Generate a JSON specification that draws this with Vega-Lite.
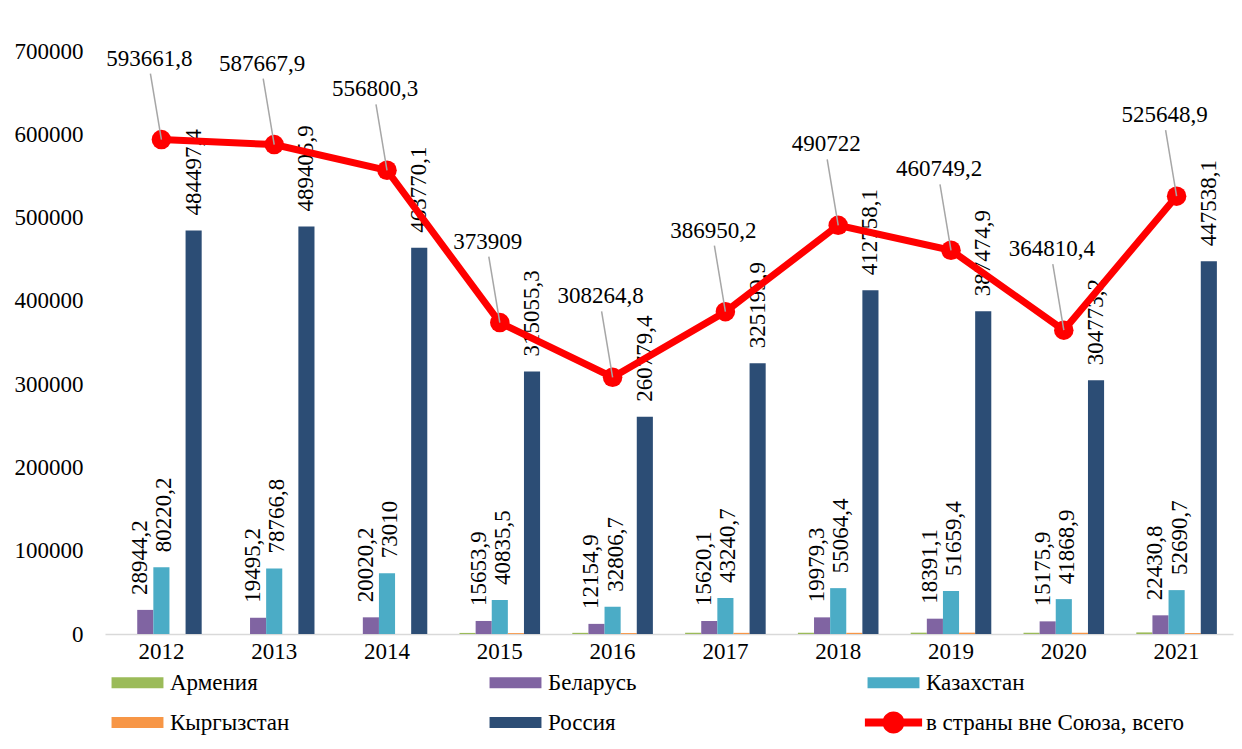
{
  "$schema": "https://vega.github.io/schema/vega-lite/v6.json",
  "width": 1128,
  "height": 583,
  "autosize": {"type": "none"},
  "padding": {"left": 105, "top": 51, "right": 9, "bottom": 115},
  "background": "white",
  "config": {
    "view": {"stroke": null},
    "font": "Liberation Serif",
    "text": {"font": "Liberation Serif"},
    "axis": {"labelFont": "Liberation Serif"},
    "legend": {"labelFont": "Liberation Serif"},
    "locale": {"number": {"decimal": ",", "thousands": " ", "grouping": [3], "currency": ["", ""]}}
  },
  "datasets": {
    "bars": [
      {"year": "2012", "series": "Беларусь", "value": 28944.2},
      {"year": "2012", "series": "Казахстан", "value": 80220.2},
      {"year": "2012", "series": "Россия", "value": 484497.4},
      {"year": "2013", "series": "Беларусь", "value": 19495.2},
      {"year": "2013", "series": "Казахстан", "value": 78766.8},
      {"year": "2013", "series": "Россия", "value": 489405.9},
      {"year": "2014", "series": "Беларусь", "value": 20020.2},
      {"year": "2014", "series": "Казахстан", "value": 73010},
      {"year": "2014", "series": "Россия", "value": 463770.1},
      {"year": "2015", "series": "Армения", "value": 1300},
      {"year": "2015", "series": "Беларусь", "value": 15653.9},
      {"year": "2015", "series": "Казахстан", "value": 40835.5},
      {"year": "2015", "series": "Кыргызстан", "value": 1064.3},
      {"year": "2015", "series": "Россия", "value": 315055.3},
      {"year": "2016", "series": "Армения", "value": 1400},
      {"year": "2016", "series": "Беларусь", "value": 12154.9},
      {"year": "2016", "series": "Казахстан", "value": 32806.7},
      {"year": "2016", "series": "Кыргызстан", "value": 1123.8},
      {"year": "2016", "series": "Россия", "value": 260779.4},
      {"year": "2017", "series": "Армения", "value": 1500},
      {"year": "2017", "series": "Беларусь", "value": 15620.1},
      {"year": "2017", "series": "Казахстан", "value": 43240.7},
      {"year": "2017", "series": "Кыргызстан", "value": 1389.5},
      {"year": "2017", "series": "Россия", "value": 325199.9},
      {"year": "2018", "series": "Армения", "value": 1500},
      {"year": "2018", "series": "Беларусь", "value": 19979.3},
      {"year": "2018", "series": "Казахстан", "value": 55064.4},
      {"year": "2018", "series": "Кыргызстан", "value": 1420.2},
      {"year": "2018", "series": "Россия", "value": 412758.1},
      {"year": "2019", "series": "Армения", "value": 1600},
      {"year": "2019", "series": "Беларусь", "value": 18391.1},
      {"year": "2019", "series": "Казахстан", "value": 51659.4},
      {"year": "2019", "series": "Кыргызстан", "value": 1623.8},
      {"year": "2019", "series": "Россия", "value": 387474.9},
      {"year": "2020", "series": "Армения", "value": 1500},
      {"year": "2020", "series": "Беларусь", "value": 15175.9},
      {"year": "2020", "series": "Казахстан", "value": 41868.9},
      {"year": "2020", "series": "Кыргызстан", "value": 1492.4},
      {"year": "2020", "series": "Россия", "value": 304773.2},
      {"year": "2021", "series": "Армения", "value": 1900},
      {"year": "2021", "series": "Беларусь", "value": 22430.8},
      {"year": "2021", "series": "Казахстан", "value": 52690.7},
      {"year": "2021", "series": "Кыргызстан", "value": 1089.3},
      {"year": "2021", "series": "Россия", "value": 447538.1}
    ],
    "total": [
      {"year": "2012", "total": 593661.8},
      {"year": "2013", "total": 587667.9},
      {"year": "2014", "total": 556800.3},
      {"year": "2015", "total": 373909},
      {"year": "2016", "total": 308264.8},
      {"year": "2017", "total": 386950.2},
      {"year": "2018", "total": 490722},
      {"year": "2019", "total": 460749.2},
      {"year": "2020", "total": 364810.4},
      {"year": "2021", "total": 525648.9}
    ]
  },
  "layer": [
    {
      "data": {"name": "bars"},
      "mark": {"type": "bar"},
      "encoding": {
        "x": {
          "field": "year", "type": "ordinal",
          "scale": {"paddingInner": 0, "paddingOuter": 0},
          "axis": {
            "title": null, "labelAngle": 0, "labelFontSize": 23, "labelFont": "Liberation Serif",
            "labelColor": "black", "domainColor": "#D9D9D9", "domainWidth": 1.5, "ticks": false, "labelPadding": 6
          }
        },
        "xOffset": {
          "field": "series", "type": "nominal",
          "scale": {"domain": ["Армения", "Беларусь", "Казахстан", "Кыргызстан", "Россия"], "paddingInner": 0, "paddingOuter": 1}
        },
        "y": {
          "field": "value", "type": "quantitative",
          "scale": {"domain": [0, 700000], "nice": false},
          "axis": {
            "title": null, "domain": false, "ticks": false, "grid": false, "labelFontSize": 23,
            "labelFont": "Liberation Serif", "labelColor": "black", "labelPadding": 22,
            "values": [0, 100000, 200000, 300000, 400000, 500000, 600000, 700000], "format": "d"
          }
        },
        "color": {
          "field": "series", "type": "nominal",
          "scale": {
            "domain": ["Армения", "Беларусь", "Казахстан", "Кыргызстан", "Россия", "в страны вне Союза, всего"],
            "range": ["#9BBB59", "#8064A2", "#4BACC6", "#F79646", "#2C4D75", "#FF0000"]
          },
          "legend": {
            "orient": "none", "legendX": 21, "legendY": 620, "columns": 3, "direction": "horizontal", "title": null,
            "labelFontSize": 23, "labelFont": "Liberation Serif", "labelColor": "black",
            "symbolSize": 484, "labelOffset": 21, "columnPadding": 57, "rowPadding": 16,
            "gridAlign": "all", "labelLimit": 400, "symbolStrokeWidth": 0, "padding": 0, "offset": 0,
            "encode": {
              "labels": {"update": {"font": {"value": "Liberation Serif"}}},
              "symbols": {
                "update": {
                  "shape": [
                    {"test": "datum.value === 'в страны вне Союза, всего'", "value": "M-2.6,-0.36H2.6V0.36H-2.6Z M-1,0A1,1 0 1,1 1,0A1,1 0 1,1 -1,0Z"},
                    {"value": "M-2.36,-0.5H2.36V0.5H-2.36Z"}
                  ],
                  "fill": {"scale": "color", "field": "value"},
                  "stroke": {"value": "transparent"},
                  "opacity": {"value": 1}
                }
              }
            }
          }
        }
      }
    },
    {
      "data": {"name": "bars"},
      "transform": [{"filter": "datum.series === 'Беларусь'"}],
      "mark": {"type": "text", "angle": 270, "align": "left", "baseline": "middle", "dx": 15, "dy": -5, "fontSize": 23, "font": "Liberation Serif", "color": "black"},
      "encoding": {
        "x": {"field": "year", "type": "ordinal"},
        "xOffset": {"field": "series", "type": "nominal"},
        "y": {"field": "value", "type": "quantitative"},
        "text": {"field": "value", "type": "quantitative", "format": ".1~f"}
      }
    },
    {
      "data": {"name": "bars"},
      "transform": [{"filter": "datum.series === 'Казахстан'"}],
      "mark": {"type": "text", "angle": 270, "align": "left", "baseline": "middle", "dx": 15, "dy": 3, "fontSize": 23, "font": "Liberation Serif", "color": "black"},
      "encoding": {
        "x": {"field": "year", "type": "ordinal"},
        "xOffset": {"field": "series", "type": "nominal"},
        "y": {"field": "value", "type": "quantitative"},
        "text": {"field": "value", "type": "quantitative", "format": ".1~f"}
      }
    },
    {
      "data": {"name": "bars"},
      "transform": [{"filter": "datum.series === 'Россия'"}],
      "mark": {"type": "text", "angle": 270, "align": "left", "baseline": "middle", "dx": 15, "fontSize": 23, "font": "Liberation Serif", "color": "black"},
      "encoding": {
        "x": {"field": "year", "type": "ordinal"},
        "xOffset": {"field": "series", "type": "nominal"},
        "y": {"field": "value", "type": "quantitative"},
        "text": {"field": "value", "type": "quantitative", "format": ".1~f"}
      }
    },
    {
      "data": {"name": "total"},
      "mark": {"type": "line", "strokeWidth": 7, "point": {"filled": true, "size": 380, "opacity": 1}},
      "encoding": {
        "x": {"field": "year", "type": "ordinal"},
        "y": {"field": "total", "type": "quantitative"},
        "color": {"datum": "в страны вне Союза, всего"}
      }
    },
    {
      "data": {"name": "total"},
      "mark": {"type": "rule", "color": "#A6A6A6", "strokeWidth": 1.5, "x2Offset": -11, "y2Offset": -66},
      "encoding": {
        "x": {"field": "year", "type": "ordinal", "bandPosition": 0.5},
        "x2": {"field": "year", "bandPosition": 0.5},
        "y": {"field": "total", "type": "quantitative"},
        "y2": {"field": "total"}
      }
    },
    {
      "data": {"name": "total"},
      "mark": {"type": "text", "dx": -12, "dy": -74, "baseline": "alphabetic", "align": "center", "fontSize": 23, "font": "Liberation Serif", "color": "black"},
      "encoding": {
        "x": {"field": "year", "type": "ordinal"},
        "y": {"field": "total", "type": "quantitative"},
        "text": {"field": "total", "type": "quantitative", "format": ".1~f"}
      }
    }
  ]
}
